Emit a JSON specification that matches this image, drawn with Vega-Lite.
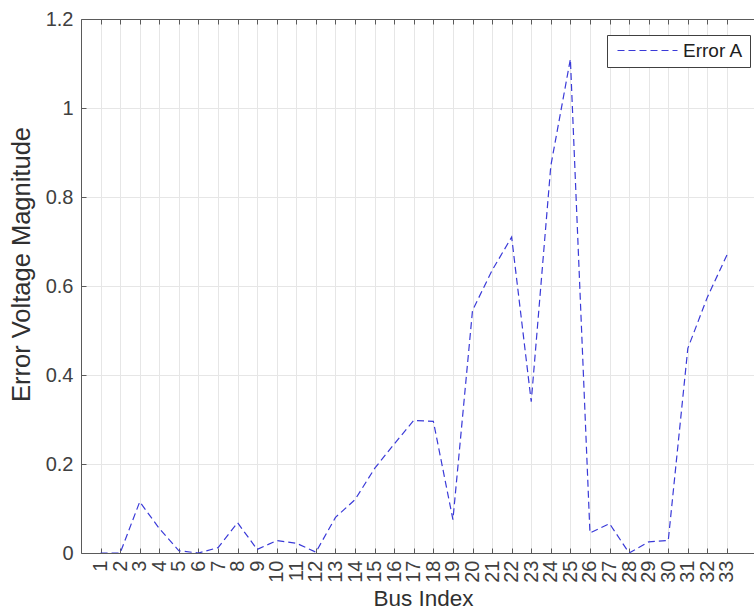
{
  "$schema": "https://vega.github.io/schema/vega-lite/v6.json",
  "autosize": "none",
  "width": 673,
  "height": 534,
  "padding": {"left": 81, "top": 19, "right": 0, "bottom": 63},
  "background": "white",
  "config": {
    "view": {"stroke": null},
    "font": "Liberation Sans",
    "axis": {
      "labelFont": "Liberation Sans",
      "titleFont": "Liberation Sans",
      "labelFontSize": 20,
      "labelColor": "#404040",
      "titleColor": "#303030",
      "titleFontWeight": "normal",
      "domainColor": "#5a5a5a",
      "tickColor": "#5a5a5a",
      "gridColor": "#e6e6e6",
      "gridWidth": 1
    }
  },
  "data": {
    "values": [
      {"bus": 1, "val": 0.0},
      {"bus": 2, "val": 0.0},
      {"bus": 3, "val": 0.115},
      {"bus": 4, "val": 0.055},
      {"bus": 5, "val": 0.005},
      {"bus": 6, "val": 0.0},
      {"bus": 7, "val": 0.012},
      {"bus": 8, "val": 0.068},
      {"bus": 9, "val": 0.008},
      {"bus": 10, "val": 0.028},
      {"bus": 11, "val": 0.022},
      {"bus": 12, "val": 0.002},
      {"bus": 13, "val": 0.08},
      {"bus": 14, "val": 0.12},
      {"bus": 15, "val": 0.19},
      {"bus": 16, "val": 0.245},
      {"bus": 17, "val": 0.298},
      {"bus": 18, "val": 0.296},
      {"bus": 19, "val": 0.075},
      {"bus": 20, "val": 0.545},
      {"bus": 21, "val": 0.635},
      {"bus": 22, "val": 0.71},
      {"bus": 23, "val": 0.34},
      {"bus": 24, "val": 0.87},
      {"bus": 25, "val": 1.11},
      {"bus": 26, "val": 0.045},
      {"bus": 27, "val": 0.066},
      {"bus": 28, "val": 0.0},
      {"bus": 29, "val": 0.025},
      {"bus": 30, "val": 0.028},
      {"bus": 31, "val": 0.46},
      {"bus": 32, "val": 0.575},
      {"bus": 33, "val": 0.67}
    ]
  },
  "layer": [
    {
      "mark": {"type": "line", "strokeWidth": 1.2, "strokeDash": [7, 4], "clip": true},
      "encoding": {
        "x": {
          "field": "bus",
          "type": "quantitative",
          "scale": {"domain": [0, 34.38], "nice": false, "zero": false},
          "axis": {
            "title": "Bus Index",
            "titleFontSize": 22.5,
            "titleX": 342,
            "values": [1,2,3,4,5,6,7,8,9,10,11,12,13,14,15,16,17,18,19,20,21,22,23,24,25,26,27,28,29,30,31,32,33],
            "labelAngle": -90,
            "labelPadding": 12,
            "tickSize": -5,
            "grid": true,
            "titlePadding": 5,
            "labelFlush": false,
            "labelOverlap": false
          }
        },
        "y": {
          "field": "val",
          "type": "quantitative",
          "scale": {"domain": [0, 1.2], "nice": false},
          "axis": {
            "title": "Error Voltage Magnitude",
            "titleFontSize": 25.5,
            "titleY": 245,
            "values": [0, 0.2, 0.4, 0.6, 0.8, 1, 1.2],
            "format": "~g",
            "tickSize": -5,
            "labelPadding": 13,
            "grid": true,
            "titlePadding": 11,
            "labelFlush": false
          }
        },
        "color": {
          "datum": "Error A",
          "type": "nominal",
          "scale": {"range": ["#3a3ad8"]},
          "legend": {
            "title": null,
            "orient": "none",
            "legendX": 526,
            "legendY": 16,
            "symbolType": "M-1,0H11",
            "symbolSize": 100,
            "symbolStrokeWidth": 1.2,
            "symbolDash": [7, 4],
            "labelFontSize": 19,
            "labelFont": "Liberation Sans",
            "labelColor": "#202020",
            "labelOffset": 51,
            "padding": 6,
            "strokeColor": "#404040",
            "fillColor": "white"
          }
        }
      }
    },
    {
      "mark": {"type": "point", "opacity": 0},
      "encoding": {
        "x": {
          "field": "bus",
          "type": "quantitative",
          "axis": {
            "orient": "top",
            "title": null,
            "labels": false,
            "grid": false,
            "tickSize": -5,
            "values": [1,2,3,4,5,6,7,8,9,10,11,12,13,14,15,16,17,18,19,20,21,22,23,24,25,26,27,28,29,30,31,32,33]
          }
        }
      }
    }
  ],
  "resolve": {"axis": {"x": "independent"}}
}
